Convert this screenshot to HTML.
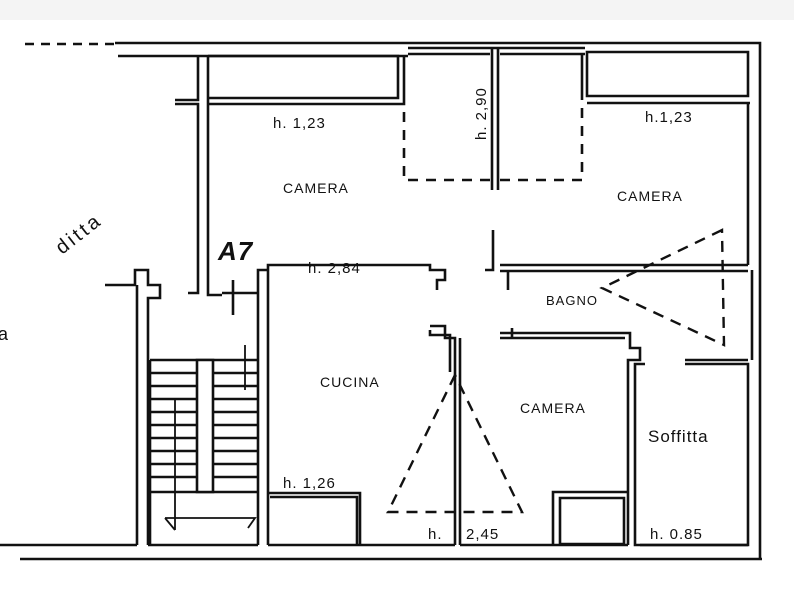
<!DOCTYPE html>
<html><head><meta charset="utf-8"><style>
html,body{margin:0;padding:0;background:#fff;}
svg{display:block;}
text{font-family:"Liberation Sans",sans-serif;fill:#111;}
</style></head><body>
<svg width="794" height="600" viewBox="0 0 794 600" xmlns="http://www.w3.org/2000/svg">
<rect width="794" height="600" fill="#fff"/>
<rect x="0" y="0" width="794" height="20" fill="#f4f4f4"/>
<g stroke="#111" stroke-width="2.6" fill="none" stroke-linejoin="miter">
<path d="M25 44 H115" stroke-dasharray="9 7"/>
<path d="M115 43 H760 V560"/>
<path d="M20 559 H762"/>
<path d="M118 56 H408"/>
<path d="M408 48 H585 M408 54 H490 M500 54 H585"/>
<path d="M587 52 V96 H748 V52 Z"/>
<path d="M748 103 V265 M750 103 H587"/>
<path d="M198 56 V100 H175 M175 104 H198 V293 H188"/>
<path d="M208 56 V295 H222"/>
<path d="M208 56 H398 V98 H208 M208 104 H404 V56"/>
<path d="M492 48 V190 M498 48 V190"/>
<path d="M404 112 V180 H490" stroke-dasharray="10 8"/>
<path d="M500 180 H582 V100" stroke-dasharray="10 8"/>
<path d="M582 100 V55"/>
<path d="M222 293 H258 M233 280 V315"/>
<path d="M258 295 V270 H268 V265 H430 V270 H445 V280 H437 V290 M268 270 V545 M258 295 V545"/>
<path d="M105 285 H135 V270 H148 V285 H160 V298 H148 V545 M137 285 V545"/>
<path d="M150 545 V360 M258 360 H150 M150 373 H258 M150 386 H258 M150 399 H258 M150 412 H258 M150 425 H258 M150 438 H258 M150 451 H258 M150 464 H258 M150 477 H258 M150 492 H258"/>
<path d="M197 360 H213 V492 H197 Z" fill="#fff"/>
<path d="M175 400 V530 M245 345 V390 M165 518 H255 L248 528 M165 518 L175 530" stroke-width="1.8"/>
<path d="M493 230 V270 H485 M500 265 H748 M500 271 H748 M508 272 V290"/>
<path d="M500 333 H630 V348 H640 V360 H628 V545 M500 338 H625 M512 328 V338"/>
<path d="M685 360 H748 M685 364 H748 V545 H635 V364 H645"/>
<path d="M752 270 V360"/>
<path d="M430 326 H445 V338 H455 V545 M430 330 V335 H450 V372 M460 338 V545"/>
<path d="M268 545 H455 M460 545 H553 V492 H628 M553 545 H628"/>
<path d="M268 493 H360 V545 M270 497 H357 V545"/>
<path d="M560 498 H624 V544 H560 Z"/>
<path d="M0 545 H137 M148 545 H258"/>
<path d="M640 545 H748"/>
<path d="M455 375 L388 512 H522 Z M722 230 L602 288 L724 345 Z" stroke-dasharray="11 8" stroke-width="2.4"/>
</g>
<g font-size="15" letter-spacing="1">
<text x="273" y="128">h. 1,23</text>
<text x="645" y="122">h.1,23</text>
<text x="283" y="193" font-size="14">CAMERA</text>
<text x="617" y="201" font-size="14">CAMERA</text>
<text x="308" y="273">h. 2,84</text>
<text x="546" y="305" font-size="13">BAGNO</text>
<text x="320" y="387" font-size="14">CUCINA</text>
<text x="520" y="413" font-size="14">CAMERA</text>
<text x="648" y="442" font-size="17">Soffitta</text>
<text x="283" y="488">h. 1,26</text>
<text x="428" y="539">h.</text>
<text x="466" y="539">2,45</text>
<text x="650" y="539">h. 0.85</text>
<text x="218" y="260" font-size="26" font-weight="bold" font-style="italic">A7</text>
<text transform="translate(486,140) rotate(-90)" font-size="15">h. 2,90</text>
<text transform="translate(62,255) rotate(-38)" font-size="20" letter-spacing="3">ditta</text>
<text x="-2" y="340" font-size="18">a</text>
</g>
</svg>
</body></html>
